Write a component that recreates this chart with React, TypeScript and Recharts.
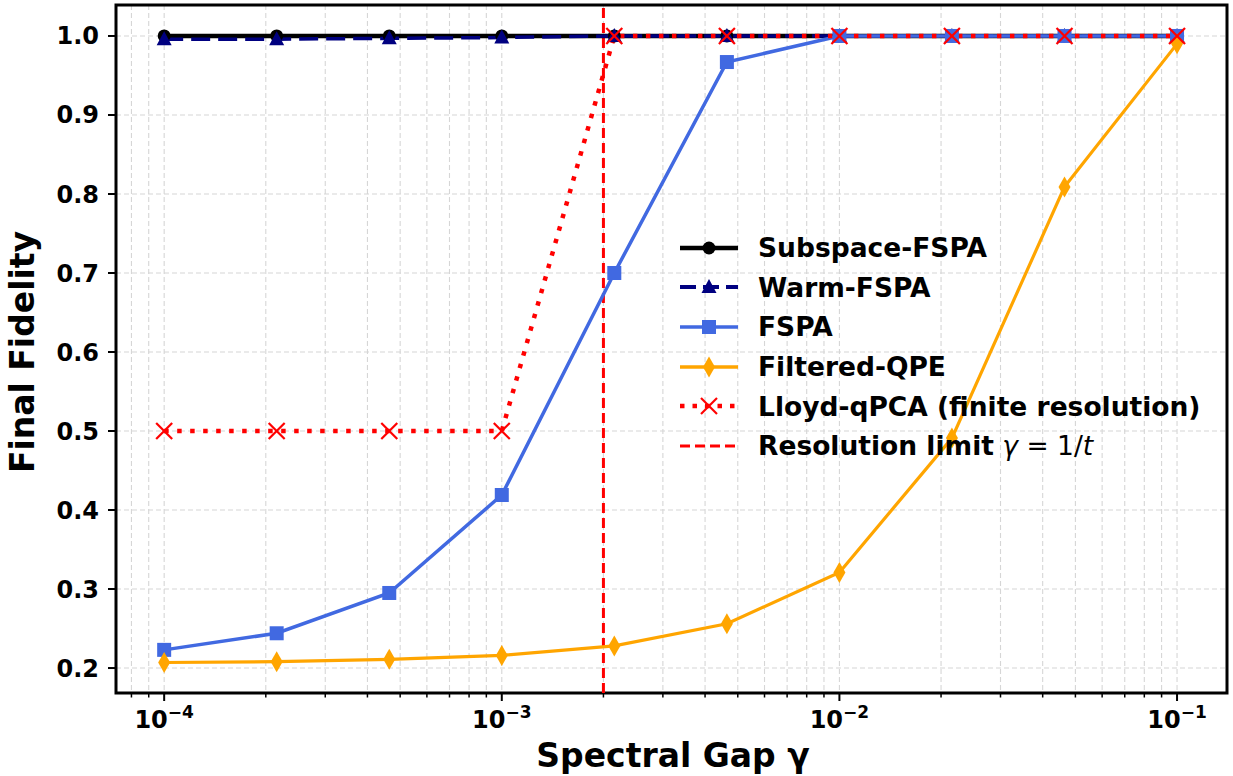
import {
  CartesianGrid,
  Line,
  LineChart,
  ReferenceArea,
  ReferenceLine,
  XAxis,
  YAxis,
} from "recharts";

// spectral gap values (log-spaced, 1e-4 .. 1e-1)
const gammaValues = [1e-4, 2.154e-4, 4.642e-4, 1e-3, 2.154e-3, 4.642e-3, 1e-2, 2.154e-2, 4.642e-2, 1e-1];

const subspaceFspa = [1.0, 1.0, 1.0, 1.0, 1.0, 1.0, 1.0, 1.0, 1.0, 1.0];
const warmFspa = [0.996, 0.996, 0.997, 0.998, 1.0, 1.0, 1.0, 1.0, 1.0, 1.0];
const fspa = [0.223, 0.244, 0.295, 0.419, 0.7, 0.967, 1.0, 1.0, 1.0, 1.0];
const filteredQpe = [0.207, 0.208, 0.211, 0.216, 0.228, 0.256, 0.321, 0.491, 0.809, 0.99];
const lloydQpca = [0.5, 0.5, 0.5, 0.5, 1.0, 1.0, 1.0, 1.0, 1.0, 1.0];

const resolutionLimit = 2e-3;

const xMajorTicks = [1e-4, 1e-3, 1e-2, 1e-1];
const xMinorMultipliers = [2, 3, 4, 5, 6, 7, 8, 9];
const yTicks = [0.2, 0.3, 0.4, 0.5, 0.6, 0.7, 0.8, 0.9, 1.0];

const xDomain: [number, number] = [7.2e-5, 0.1406];
const yDomain: [number, number] = [0.1684, 1.0392];

const xTicks = [1e-5, ...xMajorTicks]
  .flatMap((d) => [d, ...xMinorMultipliers.map((m) => m * d)])
  .filter((v) => v >= xDomain[0] && v <= xDomain[1]);

const data = gammaValues.map((g, i) => ({
  gamma: g,
  subspace: subspaceFspa[i],
  warm: warmFspa[i],
  fspa: fspa[i],
  filtered: filteredQpe[i],
  lloyd: lloydQpca[i],
}));

const FONT = "DejaVu Sans";
const NAVY = "#000080";
const BLUE = "#4169E1";
const ORANGE = "#FFA500";
const RED = "#FF0000";

const Circle = ({ cx, cy }: any) => <circle cx={cx} cy={cy} r={6.5} fill="#000" />;
const Triangle = ({ cx, cy }: any) => (
  <polygon points={`${cx},${cy - 8} ${cx - 7.5},${cy + 6} ${cx + 7.5},${cy + 6}`} fill={NAVY} />
);
const Square = ({ cx, cy }: any) => <rect x={cx - 7} y={cy - 7} width={14} height={14} fill={BLUE} />;
const Diamond = ({ cx, cy }: any) => (
  <polygon points={`${cx},${cy - 10.5} ${cx + 6},${cy} ${cx},${cy + 10.5} ${cx - 6},${cy}`} fill={ORANGE} />
);
const Cross = ({ cx, cy }: any) => (
  <g stroke={RED} strokeWidth={2.2}>
    <line x1={cx - 8} y1={cy - 8} x2={cx + 8} y2={cy + 8} />
    <line x1={cx - 8} y1={cy + 8} x2={cx + 8} y2={cy - 8} />
  </g>
);

const dotOf = (Shape: any, name: string) => (p: any) => (
  <g key={`${name}-${p.index}`}>
    <Shape cx={p.cx} cy={p.cy} />
  </g>
);

const XTick = ({ x, y, payload }: any) => {
  const v = payload.value;
  const exp = Math.round(Math.log10(v));
  const major = Math.abs(v - Math.pow(10, exp)) / v < 1e-6;
  return (
    <g>
      <line x1={x} x2={x} y1={y} y2={y + (major ? 8 : 4.5)} stroke="#000" strokeWidth={major ? 2 : 1.5} />
      {major && (
        <text x={x} y={y + 35} textAnchor="middle" fontFamily={FONT} fontWeight="bold" fontSize={24} fill="#000">
          10
          <tspan dy={-10} fontSize={17}>
            {`\u2212${-exp}`}
          </tspan>
        </text>
      )}
    </g>
  );
};

const legendItems = [
  { label: "Subspace-FSPA", color: "#000", width: 4.5, dash: undefined, Shape: Circle },
  { label: "Warm-FSPA", color: NAVY, width: 4, dash: "16 7", Shape: Triangle },
  { label: "FSPA", color: BLUE, width: 3.5, dash: undefined, Shape: Square },
  { label: "Filtered-QPE", color: ORANGE, width: 3.5, dash: undefined, Shape: Diamond },
  { label: "Lloyd-qPCA (finite resolution)", color: RED, width: 4.5, dash: "4.5 8", Shape: Cross },
  { label: "Resolution limit", color: RED, width: 3, dash: "10 5", Shape: null },
];

function ChartLegend() {
  return (
    <div style={{ position: "absolute", left: 676, top: 228, fontFamily: FONT }}>
      {legendItems.map((it) => (
        <div key={it.label} style={{ display: "flex", alignItems: "center", height: 39.6 }}>
          <svg width={66} height={30} style={{ marginRight: 16 }}>
            <line x1={4} x2={62} y1={15} y2={15} stroke={it.color} strokeWidth={it.width} strokeDasharray={it.dash} />
            {it.Shape && <it.Shape cx={33} cy={15} />}
          </svg>
          <span style={{ fontSize: 26.5, fontWeight: "bold", color: "#000", whiteSpace: "nowrap" }}>
            {it.label}
            {it.Shape === null && (
              <span style={{ fontWeight: "normal" }}>
                {" "}
                <i>γ</i> = 1/<i>t</i>
              </span>
            )}
          </span>
        </div>
      ))}
    </div>
  );
}

export default function App() {
  return (
    <div style={{ position: "absolute", left: 0, top: 0, width: 1233, height: 776, background: "#fff" }}>
      <LineChart width={1233} height={776} data={data} margin={{ top: 5, right: 6, left: 0, bottom: 0 }}>
        <CartesianGrid stroke="#d6d6d6" strokeDasharray="5 3" strokeWidth={1.1} />
        <XAxis
          dataKey="gamma"
          type="number"
          scale="log"
          domain={xDomain}
          allowDataOverflow
          ticks={xTicks}
          interval={0}
          tick={<XTick />}
          tickLine={false}
          tickSize={0}
          tickMargin={0}
          axisLine={false}
          height={83}
        />
        <YAxis
          type="number"
          domain={yDomain}
          allowDataOverflow
          ticks={yTicks}
          interval={0}
          tickFormatter={(v: number) => v.toFixed(1)}
          tick={{ fill: "#000", fontSize: 24, fontWeight: "bold", fontFamily: FONT }}
          tickLine={{ stroke: "#000", strokeWidth: 2 }}
          tickSize={8}
          tickMargin={9}
          axisLine={false}
          width={116}
        />
        <ReferenceLine x={resolutionLimit} stroke={RED} strokeWidth={3} strokeDasharray="10 5" />
        <Line
          dataKey="subspace"
          stroke="#000"
          strokeWidth={4.5}
          dot={dotOf(Circle, "c")}
          isAnimationActive={false}
        />
        <Line
          dataKey="warm"
          stroke={NAVY}
          strokeWidth={3.5}
          strokeDasharray="19 8"
          dot={dotOf(Triangle, "t")}
          isAnimationActive={false}
        />
        <Line dataKey="fspa" stroke={BLUE} strokeWidth={3.5} dot={dotOf(Square, "s")} isAnimationActive={false} />
        <Line dataKey="filtered" stroke={ORANGE} strokeWidth={3.2} dot={dotOf(Diamond, "d")} isAnimationActive={false} />
        <Line
          dataKey="lloyd"
          stroke={RED}
          strokeWidth={4.5}
          strokeDasharray="4.5 8.5"
          dot={dotOf(Cross, "x")}
          isAnimationActive={false}
        />
        <ReferenceArea
          x1={xDomain[0]}
          x2={xDomain[1]}
          y1={yDomain[0]}
          y2={yDomain[1]}
          fill="none"
          fillOpacity={0}
          stroke="#000"
          strokeWidth={3}
        />
      </LineChart>
      <div
        style={{
          position: "absolute",
          left: 22,
          top: 352,
          transform: "translate(-50%, -50%) rotate(-90deg)",
          fontFamily: FONT,
          fontWeight: "bold",
          fontSize: 33,
          whiteSpace: "nowrap",
        }}
      >
        Final Fidelity
      </div>
      <div
        style={{
          position: "absolute",
          left: 673,
          top: 755,
          transform: "translate(-50%, -50%)",
          fontFamily: FONT,
          fontWeight: "bold",
          fontSize: 33,
          whiteSpace: "nowrap",
        }}
      >
        Spectral Gap γ
      </div>
      <ChartLegend />
    </div>
  );
}
